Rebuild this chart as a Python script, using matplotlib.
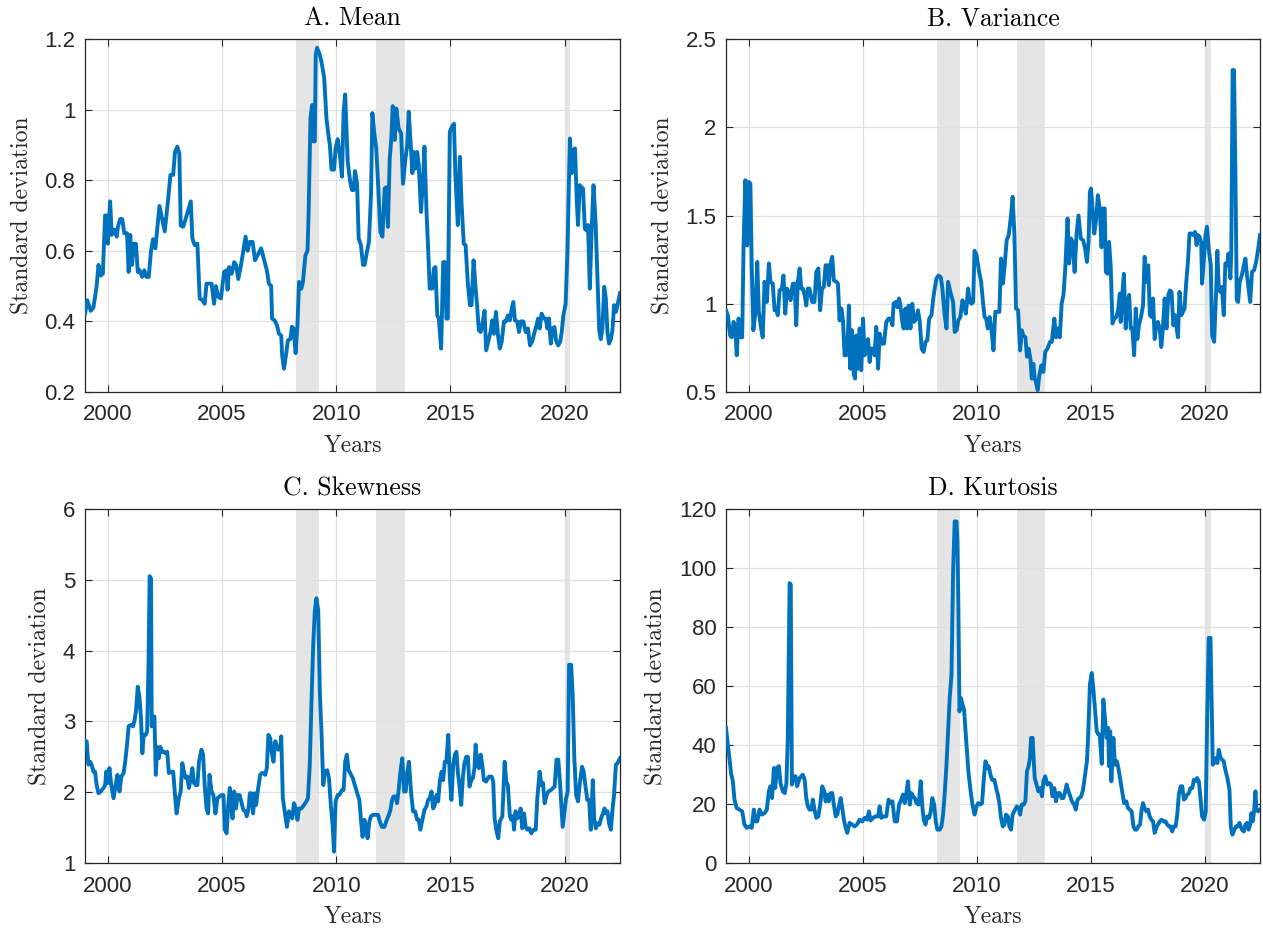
import matplotlib

matplotlib.use("Agg")
from matplotlib import pyplot as plt

# recession bands (shaded)
rec_start = [2008.25, 2011.75, 2020.0]
rec_end = [2009.25, 2013.0, 2020.25]

# A. Mean
mean_t = [
    1999.00, 1999.10, 1999.25, 1999.37, 1999.51, 1999.59, 1999.69, 1999.78, 1999.88, 1999.95,
    2000.00, 2000.10, 2000.17, 2000.29, 2000.39, 2000.44, 2000.54, 2000.63, 2000.72, 2000.84,
    2000.91, 2000.98, 2001.06, 2001.13, 2001.23, 2001.31, 2001.39, 2001.50, 2001.60, 2001.69,
    2001.79, 2001.89, 2001.98, 2002.08, 2002.26, 2002.38, 2002.49, 2002.63, 2002.74, 2002.86,
    2002.94, 2003.04, 2003.13, 2003.19, 2003.30, 2003.45, 2003.63, 2003.70, 2003.80, 2003.92,
    2004.02, 2004.14, 2004.24, 2004.32, 2004.43, 2004.54, 2004.65, 2004.73, 2004.83, 2004.95,
    2005.09, 2005.20, 2005.24, 2005.31, 2005.42, 2005.53, 2005.61, 2005.71, 2005.83, 2005.93,
    2006.03, 2006.12, 2006.21, 2006.34, 2006.44, 2006.56, 2006.71, 2006.86, 2006.96, 2007.05,
    2007.15, 2007.19, 2007.30, 2007.40, 2007.49, 2007.59, 2007.63, 2007.71, 2007.81, 2007.88,
    2007.99, 2008.06, 2008.13, 2008.22, 2008.30, 2008.37, 2008.47, 2008.54, 2008.65, 2008.74,
    2008.79, 2008.87, 2008.94, 2009.00, 2009.06, 2009.10, 2009.16, 2009.28, 2009.35, 2009.47,
    2009.57, 2009.65, 2009.72, 2009.79, 2009.90, 2009.97, 2010.06, 2010.16, 2010.25, 2010.32,
    2010.39, 2010.50, 2010.61, 2010.69, 2010.76, 2010.82, 2010.91, 2010.98, 2011.08, 2011.17,
    2011.24, 2011.35, 2011.43, 2011.52, 2011.58, 2011.67, 2011.75, 2011.84, 2011.93, 2012.02,
    2012.12, 2012.19, 2012.26, 2012.34, 2012.41, 2012.47, 2012.56, 2012.63, 2012.73, 2012.84,
    2012.92, 2013.03, 2013.10, 2013.17, 2013.27, 2013.33, 2013.39, 2013.46, 2013.54, 2013.61,
    2013.71, 2013.79, 2013.86, 2013.95, 2014.02, 2014.09, 2014.20, 2014.27, 2014.34, 2014.42,
    2014.49, 2014.59, 2014.68, 2014.75, 2014.82, 2014.88, 2014.97, 2015.06, 2015.15, 2015.22,
    2015.32, 2015.41, 2015.48, 2015.58, 2015.66, 2015.76, 2015.85, 2015.92, 2016.01, 2016.10,
    2016.17, 2016.24, 2016.32, 2016.42, 2016.49, 2016.56, 2016.65, 2016.75, 2016.83, 2016.90,
    2016.99, 2017.08, 2017.16, 2017.24, 2017.34, 2017.43, 2017.51, 2017.60, 2017.68, 2017.75,
    2017.82, 2017.92, 2018.00, 2018.08, 2018.19, 2018.29, 2018.39, 2018.48, 2018.58, 2018.68,
    2018.77, 2018.83, 2018.90, 2018.99, 2019.09, 2019.17, 2019.24, 2019.31, 2019.39, 2019.47,
    2019.55, 2019.62, 2019.71, 2019.80, 2019.87, 2019.94, 2020.04, 2020.12, 2020.19, 2020.23,
    2020.31, 2020.38, 2020.45, 2020.53, 2020.58, 2020.66, 2020.73, 2020.80, 2020.88, 2020.95,
    2021.02, 2021.10, 2021.17, 2021.26, 2021.35, 2021.43, 2021.51, 2021.58, 2021.65, 2021.73,
    2021.80, 2021.87, 2021.94, 2022.02, 2022.09, 2022.16, 2022.24, 2022.31, 2022.42,
]
mean_v = [
    0.42, 0.46, 0.43, 0.44, 0.50, 0.56, 0.53, 0.535, 0.70, 0.70,
    0.62, 0.74, 0.645, 0.66, 0.64, 0.668, 0.69, 0.69, 0.65, 0.65,
    0.54, 0.645, 0.56, 0.62, 0.62, 0.54, 0.545, 0.526, 0.545, 0.526,
    0.526, 0.60, 0.633, 0.607, 0.727, 0.69, 0.655, 0.74, 0.815, 0.815,
    0.88, 0.895, 0.876, 0.672, 0.668, 0.70, 0.74, 0.635, 0.616, 0.62,
    0.465, 0.46, 0.45, 0.507, 0.507, 0.507, 0.45, 0.50, 0.47, 0.465,
    0.54, 0.545, 0.49, 0.554, 0.535, 0.568, 0.56, 0.52, 0.56, 0.60,
    0.64, 0.60, 0.625, 0.625, 0.573, 0.588, 0.607, 0.57, 0.545, 0.507,
    0.50, 0.408, 0.403, 0.39, 0.365, 0.36, 0.304, 0.266, 0.31, 0.346,
    0.35, 0.385, 0.38, 0.31, 0.39, 0.512, 0.493, 0.512, 0.588, 0.60,
    0.71, 0.975, 1.013, 0.91, 0.91, 1.155, 1.175, 1.155, 1.136, 1.09,
    0.975, 0.93, 0.90, 0.83, 0.83, 0.89, 0.916, 0.871, 0.81, 0.994,
    1.043, 0.852, 0.795, 0.772, 0.772, 0.826, 0.79, 0.635, 0.616, 0.56,
    0.56, 0.60, 0.625, 0.758, 0.99, 0.93, 0.89, 0.777, 0.654, 0.64,
    0.777, 0.78, 0.668, 0.862, 0.918, 1.01, 0.914, 1.003, 0.947, 0.932,
    0.79, 0.862, 0.895, 0.994, 0.89, 0.82, 0.88, 0.833, 0.88, 0.843,
    0.71, 0.795, 0.895, 0.71, 0.607, 0.493, 0.493, 0.55, 0.554, 0.417,
    0.408, 0.323, 0.568, 0.568, 0.408, 0.408, 0.937, 0.951, 0.96, 0.805,
    0.673, 0.866, 0.74, 0.62, 0.616, 0.507, 0.446, 0.446, 0.573, 0.493,
    0.44, 0.375, 0.37, 0.40, 0.43, 0.318, 0.342, 0.37, 0.403, 0.365,
    0.427, 0.36, 0.323, 0.342, 0.40, 0.40, 0.417, 0.403, 0.436, 0.455,
    0.403, 0.40, 0.37, 0.40, 0.40, 0.37, 0.38, 0.332, 0.344, 0.37,
    0.39, 0.408, 0.38, 0.422, 0.408, 0.408, 0.38, 0.408, 0.337, 0.38,
    0.384, 0.346, 0.332, 0.342, 0.37, 0.417, 0.45, 0.60, 0.815, 0.918,
    0.82, 0.885, 0.89, 0.74, 0.673, 0.786, 0.78, 0.777, 0.663, 0.658,
    0.673, 0.493, 0.645, 0.786, 0.682, 0.53, 0.375, 0.35, 0.38, 0.498,
    0.465, 0.37, 0.337, 0.35, 0.375, 0.446, 0.427, 0.446, 0.48,
]

# B. Variance
var_t = [
    1999.00, 1999.08, 1999.18, 1999.25, 1999.33, 1999.40, 1999.47, 1999.55, 1999.62, 1999.71,
    1999.77, 1999.85, 1999.93, 2000.00, 2000.07, 2000.13, 2000.20, 2000.29, 2000.37, 2000.44,
    2000.54, 2000.61, 2000.69, 2000.79, 2000.88, 2000.95, 2001.05, 2001.13, 2001.20, 2001.27,
    2001.35, 2001.45, 2001.52, 2001.60, 2001.67, 2001.76, 2001.83, 2001.93, 2002.01, 2002.08,
    2002.15, 2002.23, 2002.30, 2002.37, 2002.45, 2002.52, 2002.59, 2002.66, 2002.78, 2002.88,
    2002.96, 2003.05, 2003.13, 2003.21, 2003.29, 2003.37, 2003.44, 2003.51, 2003.57, 2003.66,
    2003.73, 2003.84, 2003.91, 2003.98, 2004.06, 2004.13, 2004.20, 2004.28, 2004.35, 2004.39,
    2004.45, 2004.52, 2004.60, 2004.66, 2004.71, 2004.79, 2004.86, 2004.93, 2005.01, 2005.08,
    2005.15, 2005.23, 2005.30, 2005.37, 2005.45, 2005.52, 2005.59, 2005.67, 2005.74, 2005.84,
    2005.93, 2006.03, 2006.13, 2006.21, 2006.30, 2006.35, 2006.44, 2006.52, 2006.59, 2006.66,
    2006.72, 2006.79, 2006.87, 2006.94, 2007.01, 2007.09, 2007.17, 2007.25, 2007.35, 2007.42,
    2007.50, 2007.58, 2007.67, 2007.75, 2007.83, 2007.91, 2008.01, 2008.11, 2008.23, 2008.32,
    2008.42, 2008.49, 2008.59, 2008.67, 2008.74, 2008.84, 2008.96, 2009.03, 2009.11, 2009.19,
    2009.28, 2009.37, 2009.44, 2009.52, 2009.62, 2009.69, 2009.77, 2009.84, 2009.90, 2009.99,
    2010.09, 2010.19, 2010.27, 2010.34, 2010.41, 2010.48, 2010.56, 2010.63, 2010.73, 2010.81,
    2010.92, 2010.99, 2011.06, 2011.14, 2011.21, 2011.31, 2011.40, 2011.50, 2011.57, 2011.65,
    2011.72, 2011.81, 2011.90, 2011.97, 2012.04, 2012.13, 2012.20, 2012.27, 2012.35, 2012.41,
    2012.48, 2012.54, 2012.59, 2012.67, 2012.74, 2012.83, 2012.92, 2013.00, 2013.10, 2013.21,
    2013.29, 2013.40, 2013.47, 2013.56, 2013.64, 2013.72, 2013.80, 2013.88, 2013.98, 2014.05,
    2014.13, 2014.20, 2014.29, 2014.37, 2014.46, 2014.56, 2014.66, 2014.75, 2014.83, 2014.90,
    2014.96, 2015.01, 2015.07, 2015.15, 2015.22, 2015.31, 2015.39, 2015.47, 2015.54, 2015.61,
    2015.66, 2015.74, 2015.80, 2015.87, 2015.95, 2016.03, 2016.12, 2016.21, 2016.27, 2016.31,
    2016.38, 2016.45, 2016.53, 2016.60, 2016.68, 2016.75, 2016.82, 2016.90, 2016.97, 2017.04,
    2017.11, 2017.20, 2017.29, 2017.36, 2017.43, 2017.52, 2017.59, 2017.67, 2017.73, 2017.80,
    2017.87, 2017.94, 2018.02, 2018.09, 2018.16, 2018.24, 2018.32, 2018.40, 2018.47, 2018.54,
    2018.62, 2018.69, 2018.76, 2018.82, 2018.89, 2018.97, 2019.04, 2019.11, 2019.18, 2019.26,
    2019.33, 2019.42, 2019.50, 2019.57, 2019.64, 2019.69, 2019.77, 2019.84, 2019.88, 2019.96,
    2020.03, 2020.09, 2020.17, 2020.26, 2020.32, 2020.41, 2020.50, 2020.55, 2020.61, 2020.68,
    2020.75, 2020.83, 2020.90, 2020.98, 2021.04, 2021.12, 2021.16, 2021.22, 2021.28, 2021.34,
    2021.40, 2021.46, 2021.53, 2021.62, 2021.70, 2021.78, 2021.85, 2021.92, 2021.99, 2022.07,
    2022.16, 2022.25, 2022.33, 2022.42,
]
var_v = [
    0.963, 0.935, 0.82, 0.81, 0.897, 0.878, 0.708, 0.916, 0.81, 0.81,
    1.33, 1.70, 1.33, 1.69, 1.68, 1.20, 0.85, 0.954, 1.237, 0.954,
    0.86, 0.81, 1.124, 1.01, 1.228, 1.124, 1.114, 0.963, 0.973, 0.935,
    1.076, 1.086, 1.16, 0.944, 1.086, 1.067, 1.02, 1.114, 1.114, 0.878,
    1.124, 1.20, 1.086, 1.086, 1.05, 0.99, 1.086, 1.086, 1.01, 1.01,
    1.18, 1.20, 0.963, 1.086, 1.095, 1.218, 1.218, 1.105, 1.218, 1.266,
    1.133, 1.124, 1.114, 0.906, 0.973, 0.906, 0.708, 0.708, 0.84, 0.99,
    0.632, 0.85, 0.604, 0.576, 0.82, 0.632, 0.86, 0.623, 0.916, 0.708,
    0.765, 0.80, 0.67, 0.746, 0.746, 0.708, 0.869, 0.632, 0.83, 0.774,
    0.774, 0.897, 0.916, 0.916, 0.878, 1.00, 1.01, 0.98, 1.03, 0.98,
    0.906, 0.86, 0.973, 0.86, 0.99, 0.86, 1.00, 0.897, 0.916, 0.963,
    0.897, 0.746, 0.727, 0.784, 0.793, 0.916, 0.935, 1.05, 1.143, 1.16,
    1.15, 1.086, 0.935, 0.86, 1.124, 1.067, 1.01, 0.84, 0.85, 0.906,
    0.925, 1.02, 0.99, 0.944, 1.086, 1.01, 1.00, 1.01, 1.30, 1.275,
    1.19, 1.124, 1.01, 0.925, 0.916, 0.86, 0.925, 0.869, 0.736, 0.954,
    0.954, 0.954, 1.256, 1.114, 1.20, 1.36, 1.389, 1.50, 1.606, 1.389,
    0.973, 0.963, 0.736, 0.85, 0.82, 0.81, 0.70, 0.746, 0.689, 0.576,
    0.66, 0.576, 0.557, 0.51, 0.594, 0.651, 0.614, 0.727, 0.746, 0.784,
    0.784, 0.916, 0.81, 0.86, 0.81, 1.00, 1.05, 1.20, 1.483, 1.228,
    1.37, 1.35, 1.18, 1.389, 1.50, 1.37, 1.36, 1.313, 1.237, 1.35,
    1.634, 1.653, 1.54, 1.398, 1.464, 1.615, 1.54, 1.32, 1.54, 1.54,
    1.18, 1.17, 1.35, 1.218, 0.888, 0.916, 0.925, 0.973, 1.058, 0.897,
    1.05, 1.17, 0.86, 0.99, 1.05, 0.86, 0.86, 0.708, 0.973, 0.80,
    0.878, 0.925, 0.99, 1.266, 1.124, 1.218, 0.935, 0.925, 1.03, 0.80,
    0.878, 0.897, 0.86, 0.755, 0.86, 1.03, 0.86, 1.05, 1.076, 1.067,
    0.878, 0.935, 0.869, 0.81, 1.067, 0.935, 0.954, 0.973, 1.114, 1.237,
    1.398, 1.398, 1.389, 1.407, 1.332, 1.389, 1.38, 1.35, 1.114, 1.256,
    1.389, 1.436, 1.313, 1.218, 0.82, 0.784, 1.086, 1.30, 1.086, 1.067,
    1.095, 0.935, 1.228, 1.218, 1.285, 1.143, 1.294, 2.324, 2.324, 1.767,
    1.02, 1.01, 1.124, 1.16, 1.21, 1.256, 1.16, 1.086, 1.01, 1.18,
    1.19, 1.237, 1.30, 1.389,
]

# C. Skewness
skew_t = [
    1999.00, 1999.07, 1999.15, 1999.22, 1999.29, 1999.37, 1999.44, 1999.51, 1999.59, 1999.69,
    1999.81, 1999.88, 1999.93, 2000.00, 2000.07, 2000.15, 2000.25, 2000.34, 2000.42, 2000.51,
    2000.59, 2000.69, 2000.76, 2000.84, 2000.91, 2001.01, 2001.10, 2001.16, 2001.23, 2001.31,
    2001.38, 2001.45, 2001.51, 2001.57, 2001.66, 2001.72, 2001.78, 2001.83, 2001.89, 2001.92,
    2001.98, 2002.04, 2002.10, 2002.16, 2002.23, 2002.30, 2002.38, 2002.45, 2002.52, 2002.60,
    2002.67, 2002.77, 2002.86, 2002.94, 2003.01, 2003.11, 2003.19, 2003.26, 2003.33, 2003.41,
    2003.48, 2003.55, 2003.63, 2003.70, 2003.77, 2003.85, 2003.92, 2003.99, 2004.10, 2004.17,
    2004.24, 2004.32, 2004.39, 2004.45, 2004.54, 2004.62, 2004.71, 2004.80, 2004.89, 2004.98,
    2005.06, 2005.12, 2005.20, 2005.27, 2005.34, 2005.39, 2005.46, 2005.53, 2005.61, 2005.68,
    2005.77, 2005.86, 2005.93, 2006.02, 2006.08, 2006.15, 2006.22, 2006.28, 2006.36, 2006.42,
    2006.49, 2006.56, 2006.67, 2006.74, 2006.81, 2006.89, 2006.96, 2007.03, 2007.11, 2007.18,
    2007.25, 2007.33, 2007.40, 2007.47, 2007.55, 2007.59, 2007.66, 2007.74, 2007.84, 2007.93,
    2008.00, 2008.07, 2008.15, 2008.22, 2008.30, 2008.37, 2008.47, 2008.59, 2008.69, 2008.76,
    2008.84, 2008.91, 2008.99, 2009.06, 2009.13, 2009.21, 2009.28, 2009.35, 2009.43, 2009.50,
    2009.60, 2009.68, 2009.76, 2009.84, 2009.90, 2009.97, 2010.06, 2010.13, 2010.25, 2010.32,
    2010.39, 2010.46, 2010.54, 2010.61, 2010.72, 2010.83, 2010.94, 2011.01, 2011.08, 2011.15,
    2011.23, 2011.30, 2011.37, 2011.45, 2011.52, 2011.61, 2011.73, 2011.83, 2011.90, 2012.00,
    2012.11, 2012.19, 2012.30, 2012.37, 2012.44, 2012.51, 2012.59, 2012.66, 2012.73, 2012.81,
    2012.89, 2012.97, 2013.04, 2013.11, 2013.18, 2013.27, 2013.36, 2013.45, 2013.54, 2013.61,
    2013.68, 2013.77, 2013.86, 2013.95, 2014.02, 2014.09, 2014.17, 2014.24, 2014.31, 2014.39,
    2014.46, 2014.53, 2014.61, 2014.68, 2014.75, 2014.82, 2014.90, 2014.97, 2015.04, 2015.12,
    2015.19, 2015.26, 2015.32, 2015.39, 2015.47, 2015.54, 2015.61, 2015.69, 2015.76, 2015.83,
    2015.91, 2015.98, 2016.05, 2016.10, 2016.17, 2016.24, 2016.32, 2016.39, 2016.46, 2016.56,
    2016.68, 2016.80, 2016.87, 2016.93, 2017.02, 2017.09, 2017.16, 2017.27, 2017.37, 2017.44,
    2017.51, 2017.60, 2017.66, 2017.73, 2017.78, 2017.85, 2017.92, 2018.00, 2018.07, 2018.14,
    2018.22, 2018.29, 2018.36, 2018.45, 2018.54, 2018.63, 2018.73, 2018.80, 2018.90, 2018.98,
    2019.05, 2019.12, 2019.21, 2019.28, 2019.39, 2019.49, 2019.56, 2019.64, 2019.72, 2019.80,
    2019.85, 2019.91, 2019.99, 2020.06, 2020.13, 2020.19, 2020.28, 2020.35, 2020.42, 2020.50,
    2020.58, 2020.67, 2020.76, 2020.83, 2020.91, 2020.99, 2021.07, 2021.14, 2021.23, 2021.29,
    2021.36, 2021.43, 2021.52, 2021.59, 2021.67, 2021.74, 2021.81, 2021.87, 2021.94, 2022.02,
    2022.09, 2022.16, 2022.24, 2022.31, 2022.42,
]
skew_v = [
    2.725, 2.72, 2.39, 2.43, 2.39, 2.29, 2.29, 2.10, 1.985, 2.01,
    2.06, 2.10, 2.29, 2.13, 2.34, 2.10, 1.915, 2.10, 2.245, 2.01,
    2.22, 2.27, 2.43, 2.67, 2.93, 2.95, 2.93, 3.00, 3.14, 3.49,
    3.35, 3.045, 2.55, 2.81, 2.81, 2.86, 3.80, 5.05, 5.02, 2.93,
    3.045, 3.07, 2.245, 2.64, 2.48, 2.64, 2.57, 2.57, 2.55, 2.57,
    2.27, 2.29, 2.29, 1.96, 1.70, 1.915, 2.01, 2.41, 2.29, 2.20,
    2.22, 2.06, 2.20, 2.34, 2.13, 2.10, 2.10, 2.43, 2.60, 2.53,
    2.10, 1.77, 1.70, 2.245, 2.01, 1.96, 1.70, 1.915, 1.94, 1.96,
    1.96, 1.47, 1.42, 1.82, 2.06, 1.82, 1.63, 2.01, 1.77, 1.96,
    1.96, 1.845, 1.75, 1.73, 1.66, 1.75, 1.985, 1.985, 1.70, 1.985,
    1.82, 2.01, 2.245, 2.27, 2.27, 2.245, 2.34, 2.81, 2.76, 2.55,
    2.43, 2.72, 2.64, 2.60, 2.64, 2.79, 1.915, 1.73, 1.51, 1.73,
    1.70, 1.63, 1.845, 1.77, 1.61, 1.77, 1.77, 1.82, 1.87, 1.915,
    2.39, 3.23, 4.08, 4.55, 4.74, 4.57, 3.42, 2.86, 2.10, 2.29,
    2.31, 2.20, 1.82, 1.54, 1.16, 1.87, 1.96, 1.96, 2.03, 2.03,
    2.43, 2.53, 2.31, 2.27, 2.20, 2.08, 1.96, 1.89, 1.61, 1.37,
    1.61, 1.51, 1.35, 1.59, 1.66, 1.68, 1.68, 1.68, 1.59, 1.51,
    1.51, 1.59, 1.68, 1.75, 1.89, 1.94, 1.94, 1.845, 2.03, 2.29,
    2.48, 2.01, 2.01, 2.29, 2.43, 2.01, 1.73, 1.73, 1.61, 1.61,
    1.47, 1.61, 1.75, 1.80, 1.89, 1.915, 2.01, 1.77, 1.82, 1.96,
    1.87, 2.15, 2.29, 2.17, 2.43, 2.43, 2.81, 2.20, 1.89, 2.39,
    2.53, 2.57, 2.29, 2.10, 1.82, 2.20, 2.41, 2.50, 2.50, 2.08,
    2.17, 2.20, 2.34, 2.67, 2.39, 2.34, 2.53, 2.39, 2.17, 2.15,
    2.22, 2.22, 2.15, 1.63, 1.44, 1.35, 1.59, 1.66, 2.43, 2.15,
    2.10, 1.66, 1.61, 1.66, 1.47, 1.73, 1.63, 1.66, 1.77, 1.49,
    1.70, 1.51, 1.47, 1.49, 1.42, 1.47, 1.47, 1.915, 2.29, 2.10,
    2.13, 1.845, 1.96, 2.01, 2.03, 2.06, 2.08, 2.46, 2.46, 2.10,
    1.82, 1.51, 1.73, 1.915, 2.01, 3.80, 3.80, 3.37, 2.48, 1.96,
    1.87, 2.15, 2.36, 2.29, 2.08, 1.89, 1.89, 1.47, 2.17, 1.63,
    1.49, 1.56, 1.54, 1.63, 1.70, 1.77, 1.70, 1.73, 1.56, 1.47,
    1.75, 1.96, 2.39, 2.41, 2.48,
]

# D. Kurtosis
kurt_t = [
    1999.00, 1999.08, 1999.15, 1999.22, 1999.30, 1999.37, 1999.47, 1999.59, 1999.71, 1999.81,
    1999.91, 2000.03, 2000.13, 2000.22, 2000.29, 2000.37, 2000.47, 2000.57, 2000.69, 2000.79,
    2000.88, 2000.95, 2001.02, 2001.10, 2001.16, 2001.23, 2001.32, 2001.39, 2001.49, 2001.58,
    2001.65, 2001.71, 2001.79, 2001.84, 2001.89, 2001.96, 2002.05, 2002.12, 2002.23, 2002.30,
    2002.37, 2002.45, 2002.52, 2002.59, 2002.66, 2002.74, 2002.81, 2002.88, 2002.96, 2003.05,
    2003.13, 2003.22, 2003.31, 2003.37, 2003.43, 2003.51, 2003.59, 2003.66, 2003.73, 2003.81,
    2003.88, 2003.95, 2004.03, 2004.10, 2004.17, 2004.25, 2004.32, 2004.42, 2004.54, 2004.64,
    2004.74, 2004.86, 2004.98, 2005.08, 2005.18, 2005.27, 2005.34, 2005.45, 2005.55, 2005.67,
    2005.74, 2005.81, 2005.91, 2006.03, 2006.13, 2006.22, 2006.30, 2006.40, 2006.50, 2006.59,
    2006.69, 2006.76, 2006.84, 2006.91, 2006.98, 2007.06, 2007.13, 2007.20, 2007.28, 2007.35,
    2007.45, 2007.54, 2007.61, 2007.67, 2007.75, 2007.82, 2007.91, 2007.98, 2008.05, 2008.13,
    2008.20, 2008.27, 2008.37, 2008.45, 2008.52, 2008.59, 2008.67, 2008.74, 2008.81, 2008.89,
    2008.96, 2009.03, 2009.11, 2009.15, 2009.19, 2009.24, 2009.30, 2009.37, 2009.44, 2009.55,
    2009.63, 2009.72, 2009.81, 2009.90, 2009.99, 2010.06, 2010.16, 2010.23, 2010.31, 2010.38,
    2010.47, 2010.52, 2010.60, 2010.67, 2010.77, 2010.85, 2010.92, 2010.99, 2011.06, 2011.14,
    2011.21, 2011.28, 2011.36, 2011.43, 2011.50, 2011.57, 2011.68, 2011.76, 2011.84, 2011.90,
    2011.97, 2012.06, 2012.13, 2012.20, 2012.27, 2012.33, 2012.38, 2012.45, 2012.49, 2012.54,
    2012.62, 2012.70, 2012.78, 2012.86, 2012.92, 2013.00, 2013.09, 2013.18, 2013.25, 2013.32,
    2013.40, 2013.47, 2013.56, 2013.64, 2013.72, 2013.79, 2013.86, 2013.94, 2014.02, 2014.10,
    2014.17, 2014.27, 2014.34, 2014.42, 2014.49, 2014.58, 2014.66, 2014.75, 2014.83, 2014.88,
    2014.96, 2015.04, 2015.12, 2015.19, 2015.26, 2015.34, 2015.39, 2015.48, 2015.55, 2015.63,
    2015.70, 2015.76, 2015.80, 2015.85, 2015.90, 2015.99, 2016.06, 2016.14, 2016.21, 2016.28,
    2016.36, 2016.46, 2016.56, 2016.63, 2016.71, 2016.79, 2016.87, 2016.94, 2017.01, 2017.08,
    2017.16, 2017.23, 2017.29, 2017.36, 2017.43, 2017.51, 2017.58, 2017.65, 2017.73, 2017.80,
    2017.87, 2017.94, 2018.03, 2018.10, 2018.21, 2018.28, 2018.35, 2018.43, 2018.50, 2018.57,
    2018.64, 2018.72, 2018.79, 2018.86, 2018.94, 2019.01, 2019.08, 2019.15, 2019.23, 2019.30,
    2019.37, 2019.45, 2019.52, 2019.59, 2019.66, 2019.74, 2019.81, 2019.88, 2019.97, 2020.04,
    2020.10, 2020.17, 2020.25, 2020.29, 2020.35, 2020.41, 2020.50, 2020.55, 2020.61, 2020.69,
    2020.76, 2020.83, 2020.90, 2020.99, 2021.08, 2021.14, 2021.21, 2021.30, 2021.37, 2021.44,
    2021.52, 2021.57, 2021.63, 2021.71, 2021.78, 2021.85, 2021.92, 2021.99, 2022.04, 2022.10,
    2022.16, 2022.22, 2022.26, 2022.33, 2022.42,
]
kurt_v = [
    45.8, 40.1, 35.6, 30.5, 27.7, 21.5, 18.6, 18.1, 17.5, 13.0,
    11.9, 12.4, 11.9, 18.1, 14.1, 14.1, 18.1, 16.4, 16.9, 18.1,
    24.3, 26.0, 22.0, 32.2, 25.4, 32.2, 32.8, 27.1, 24.3, 23.7,
    27.1, 42.4, 94.9, 94.4, 26.6, 29.4, 29.4, 26.0, 28.8, 29.4,
    29.9, 28.2, 22.0, 19.2, 18.1, 18.1, 21.5, 18.1, 15.3, 15.8,
    19.8, 26.0, 24.3, 20.9, 23.2, 20.9, 23.7, 23.7, 19.8, 15.8,
    16.4, 19.2, 22.0, 18.6, 14.7, 11.9, 10.2, 13.6, 13.0, 12.4,
    13.0, 14.7, 14.1, 15.3, 14.7, 17.5, 14.4, 15.3, 15.8, 15.8,
    19.2, 15.3, 15.8, 15.8, 21.5, 20.3, 20.9, 14.1, 14.1, 19.8,
    21.5, 23.2, 20.3, 23.7, 27.7, 19.8, 23.7, 22.6, 22.0, 20.3,
    19.8, 27.7, 19.2, 14.7, 13.0, 15.8, 15.3, 17.5, 22.0, 19.8,
    14.1, 11.3, 11.3, 12.4, 16.4, 23.2, 33.3, 44.6, 55.9, 63.8,
    98.9, 115.8, 115.8, 109.0, 87.6, 51.4, 55.9, 53.7, 52.0, 40.1,
    31.1, 24.9, 19.8, 16.4, 19.2, 20.3, 19.8, 20.3, 28.8, 34.5,
    32.2, 32.8, 29.9, 28.2, 28.2, 25.4, 23.2, 20.3, 15.3, 12.4,
    13.0, 16.4, 15.8, 12.4, 11.3, 16.4, 18.1, 19.2, 18.6, 16.4,
    19.8, 19.8, 20.9, 31.1, 32.8, 35.6, 42.4, 42.4, 35.6, 28.8,
    26.6, 24.3, 25.4, 22.6, 27.7, 29.4, 26.6, 27.1, 26.6, 22.6,
    25.4, 20.9, 23.7, 23.7, 22.0, 22.0, 23.7, 26.6, 24.3, 22.6,
    20.9, 19.8, 18.1, 21.5, 22.0, 22.6, 24.9, 29.9, 34.5, 42.4,
    60.5, 64.4, 58.2, 51.4, 44.6, 43.5, 43.5, 33.6, 55.4, 48.0,
    42.4, 45.8, 32.8, 44.6, 27.7, 42.4, 33.3, 34.5, 32.2, 28.8,
    24.9, 20.3, 20.9, 18.6, 18.1, 17.5, 12.4, 11.3, 11.3, 12.4,
    13.0, 18.1, 20.3, 18.6, 17.5, 18.1, 15.8, 14.7, 14.1, 10.2,
    11.9, 13.0, 14.1, 14.7, 14.1, 14.1, 13.0, 12.4, 12.4, 10.7,
    12.4, 12.4, 16.4, 23.2, 26.0, 26.0, 21.5, 22.0, 23.2, 23.7,
    25.4, 25.4, 28.2, 27.7, 28.8, 27.7, 22.0, 15.8, 14.7, 17.5,
    48.0, 76.3, 76.3, 58.2, 33.3, 33.9, 35.6, 33.9, 38.4, 35.6,
    35.0, 34.5, 31.6, 28.8, 24.9, 12.4, 9.6, 11.3, 12.4, 12.4,
    13.6, 12.4, 11.3, 10.7, 13.0, 13.6, 11.3, 13.0, 16.9, 14.1,
    17.5, 24.3, 18.6, 17.5, 18.1,
]

titles = ["A. Mean", "B. Variance", "C. Skewness", "D. Kurtosis"]
yticks = [
    [0.2, 0.4, 0.6, 0.8, 1.0, 1.2],
    [0.5, 1.0, 1.5, 2.0, 2.5],
    [1, 2, 3, 4, 5, 6],
    [0, 20, 40, 60, 80, 100, 120],
]
ytick_labels = [
    ["0.2", "0.4", "0.6", "0.8", "1", "1.2"],
    ["0.5", "1", "1.5", "2", "2.5"],
    ["1", "2", "3", "4", "5", "6"],
    ["0", "20", "40", "60", "80", "100", "120"],
]
xticks = [2000, 2005, 2010, 2015, 2020]

line_color = "#0072BD"
shade_color = "#e5e5e5"
text_serif = "cmr10"

plt.rcParams["font.family"] = ["Liberation Sans", "DejaVu Sans"]
plt.rcParams["axes.unicode_minus"] = False


def panel(ax, t, v, title, yt, ytl):
    for s, e in zip(rec_start, rec_end):
        ax.axvspan(s, e, color=shade_color, lw=0, zorder=0.3)
    ax.plot(t, v, color=line_color, lw=2.8, zorder=3, solid_joinstyle="round")
    ax.set_xlim(1999.0, 2022.42)
    ax.set_ylim(yt[0], yt[-1])
    ax.set_xticks(xticks)
    ax.set_xticklabels([str(x) for x in xticks])
    ax.set_yticks(yt)
    ax.set_yticklabels(ytl)
    ax.set_axisbelow(True)
    ax.grid(True, color="#e0e0e0", lw=0.9)
    ax.tick_params(
        direction="in", top=True, right=True, length=5, width=0.8,
        colors="#262626", labelsize=16,
    )
    ax.tick_params(axis="x", pad=9)
    ax.tick_params(axis="y", pad=7)
    for sp in ax.spines.values():
        sp.set_color("#262626")
        sp.set_linewidth(0.9)
    ax.set_title(title, fontfamily=text_serif, fontsize=18.5, pad=10)
    ax.set_xlabel("Years", fontfamily=text_serif, fontsize=17, labelpad=7, color="#262626")
    ax.set_ylabel("Standard deviation", fontfamily=text_serif, fontsize=17, labelpad=8,
                  color="#262626")


fig = plt.figure(figsize=(12.63, 9.34), dpi=100)
W, H = 1263.0, 934.0
boxes = [
    (85, 39, 620, 392),
    (726, 39, 1260, 392),
    (85, 509, 620, 863),
    (726, 509, 1260, 863),
]
series = [(mean_t, mean_v), (var_t, var_v), (skew_t, skew_v), (kurt_t, kurt_v)]

for i, (l, tp, r, b) in enumerate(boxes):
    ax = fig.add_axes([l / W, 1 - b / H, (r - l) / W, (b - tp) / H])
    panel(ax, series[i][0], series[i][1], titles[i], yticks[i], ytick_labels[i])

fig.savefig("out.png", dpi=100)
